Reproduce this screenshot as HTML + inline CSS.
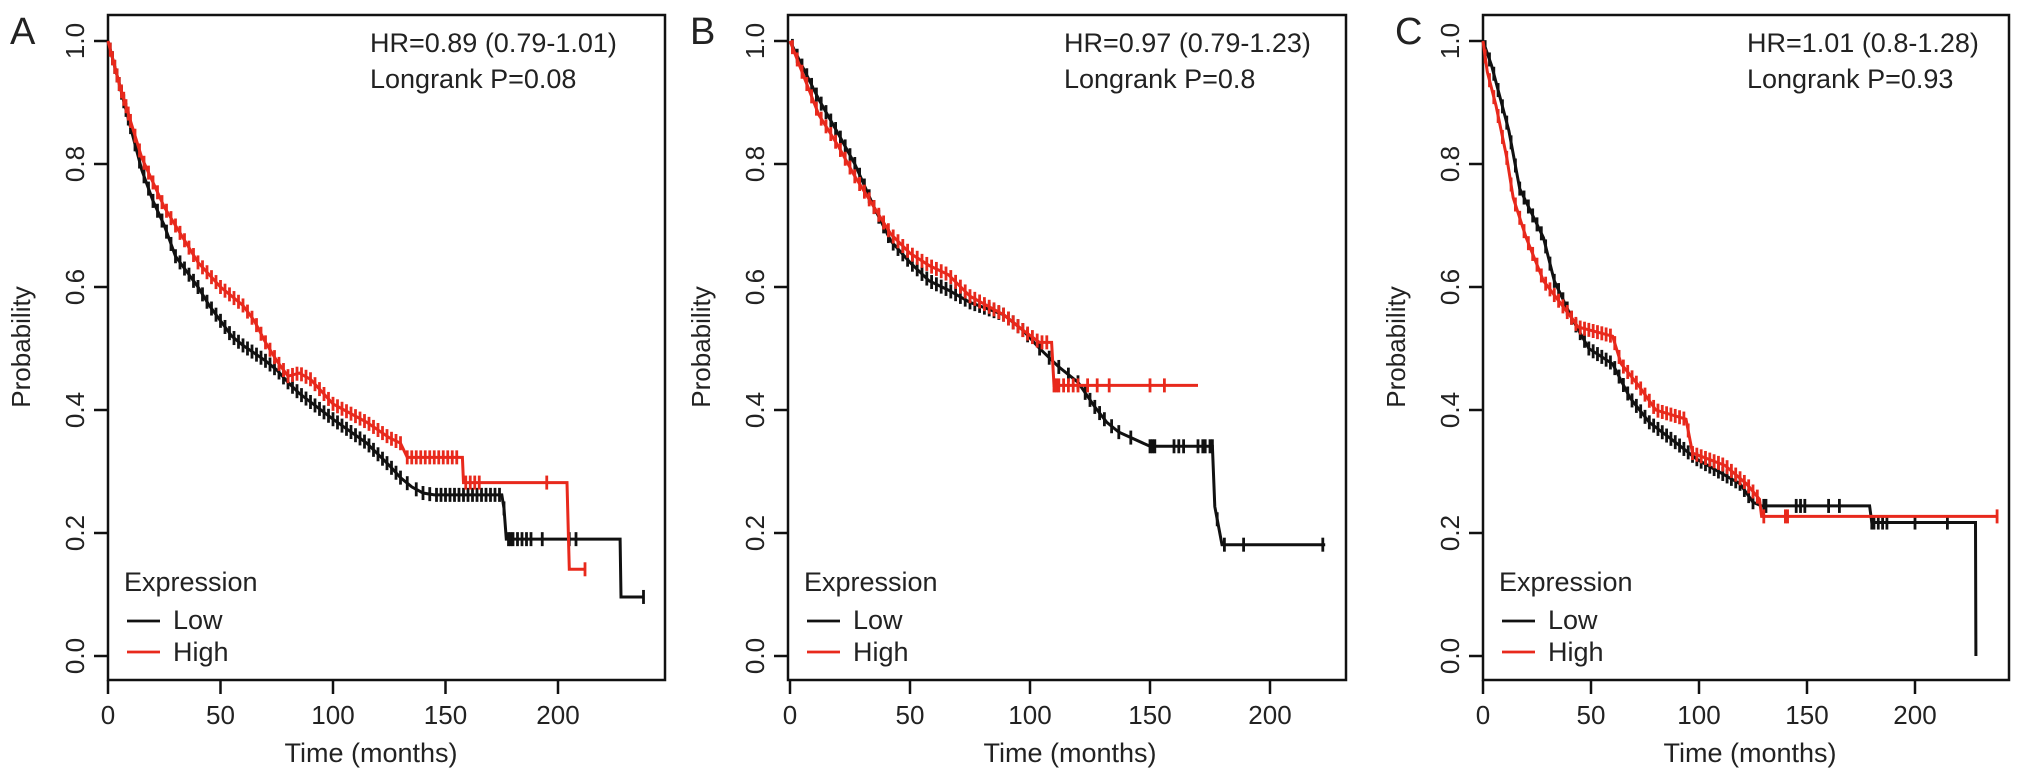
<!DOCTYPE html>
<html><head><meta charset="utf-8"><style>
html,body{margin:0;padding:0;background:#fff;}
svg{display:block;font-family:"Liberation Sans",Arial,sans-serif;}
</style></head><body>
<svg id="fig" width="2031" height="783" viewBox="0 0 2031 783"></svg>
<script>
// ---------- Data (months, survival probability) ----------
const panelLetters = ["A","B","C"];
const hrTexts = ["HR=0.89 (0.79-1.01)","HR=0.97 (0.79-1.23)","HR=1.01 (0.8-1.28)"];
const pTexts = ["Longrank P=0.08","Longrank P=0.8","Longrank P=0.93"];
const xTicks = [0,50,100,150,200];
const yTicks = [0,0.2,0.4,0.6,0.8,1.0];
const yTickLabels = ["0.0","0.2","0.4","0.6","0.8","1.0"];

const aLowT = [0,5,10,15,20,25,30,35,40,45,50,55,60,70,75,80,85,100,115,125,130,135,140,145,175,176,177,227.6,228,238];
const aLowS = [1,0.93,0.86,0.79,0.74,0.70,0.65,0.625,0.6,0.57,0.545,0.52,0.505,0.48,0.465,0.445,0.427,0.385,0.346,0.31,0.29,0.275,0.265,0.262,0.262,0.24,0.19,0.19,0.096,0.096];
const aHighT = [0,5,10,15,20,25,30,40,50,55,60,65,70,75,80,85,90,95,100,115,125,130,133,157.5,158,204,205,212];
const aHighS = [1,0.93,0.87,0.81,0.77,0.73,0.70,0.64,0.60,0.585,0.57,0.545,0.51,0.48,0.455,0.46,0.45,0.43,0.41,0.38,0.355,0.346,0.323,0.323,0.282,0.282,0.141,0.141];
const aLowC = [1,2,3,4,5,6,7,8,9,10,12,14,16,18,20,22,24,26,28,30,32,34,36,38,40,42,44,46,48,50,52,54,56,58,60,62,64,66,68,70,72,74,76,78,80,82,84,86,88,90,92,94,96,98,100,102,104,106,108,110,112,114,116,118,120,122,124,126,128,130,133,137,140,143,146,148,150,152,154,156,158,160,162,164,166,168,170,172,174,176,178,179,180,182,184,186,188,193,205,208,238];
const aHighC = [1,2,3,4,5,6,7,8,9,10,12,14,16,18,20,22,24,26,28,30,32,34,36,38,40,42,44,46,48,50,52,54,56,58,60,62,64,66,68,70,72,74,76,78,80,82,84,86,88,90,92,94,96,98,100,102,104,106,108,110,112,114,116,118,120,122,124,126,128,130,133,135,137,139,141,143,145,147,149,151,153,155,159,161,163,165,195,212];

const bLowT = [0,5,12,20,27,35,42,50,58,66,75,89,97,104,112,120,127,132,137,150,176,177,180,223];
const bLowS = [1,0.96,0.905,0.85,0.80,0.73,0.675,0.64,0.61,0.595,0.575,0.555,0.53,0.50,0.47,0.445,0.405,0.38,0.364,0.341,0.341,0.243,0.181,0.181];
const bHighT = [0,5,12,20,27,35,42,50,58,66,75,89,97,104,109,110,170];
const bHighS = [1,0.95,0.88,0.83,0.78,0.73,0.686,0.655,0.635,0.62,0.585,0.555,0.53,0.51,0.51,0.44,0.44];
const bLowC = [1,3,5,7,9,11,13,15,17,19,21,23,25,27,29,31,33,35,37,39,41,43,45,47,49,51,53,55,57,59,61,63,65,67,69,71,73,75,77,79,81,83,85,87,89,91,93,95,97,99,104,108,112,116,120,123,125,127,129,131,134,137,142,150,151,152,160,162,164,170,172,173,175,176,178,181,189,222];
const bHighC = [1,3,5,7,9,11,13,15,17,19,21,23,25,27,29,31,33,35,37,39,41,43,45,47,49,51,53,55,57,59,61,63,65,67,69,71,73,75,77,79,81,83,85,87,89,91,93,95,97,99,101,103,105,107,110,111,112,114,116,118,120,124,128,133,150,156];

const cLowT = [0,4,12,17,28,33,41,49,60,68,77,90,99,109,119,125,129,179,180,228,228.2];
const cLowS = [1,0.96,0.854,0.76,0.68,0.61,0.55,0.50,0.475,0.42,0.38,0.345,0.32,0.30,0.28,0.25,0.244,0.244,0.217,0.217,0];
const cHighT = [0,2,6,11,14,20,28,41,44,60,64,72,80,94,97,112,122,128,129,238];
const cHighS = [1,0.95,0.895,0.81,0.745,0.68,0.61,0.55,0.535,0.52,0.475,0.44,0.40,0.385,0.33,0.31,0.28,0.255,0.227,0.227];
const cLowC = [1,3,5,7,9,11,13,15,17,19,21,23,25,27,29,31,33,35,37,39,41,43,45,47,49,51,53,55,57,59,61,63,65,67,69,71,73,75,77,79,81,83,85,87,89,91,93,95,97,99,101,103,105,107,109,111,113,115,117,119,121,123,125,130,131,145,147,149,160,165,180,181,183,185,187,200,215];
const cHighC = [1,3,5,7,9,11,13,15,17,19,21,23,25,27,29,31,33,35,37,39,41,43,45,47,49,51,53,55,57,59,61,63,65,67,69,71,73,75,77,79,81,83,85,87,89,91,93,95,97,99,101,103,105,107,109,111,113,115,117,119,121,123,125,127,130,140,141,238];

// ---------- Layout ----------
const panels = [
  {left:108,right:665,x0:108,pxm:2.25,low:[aLowT,aLowS,aLowC],high:[aHighT,aHighS,aHighC],hrX:370,letterX:10,titleX:371},
  {left:788,right:1346,x0:790,pxm:2.4,low:[bLowT,bLowS,bLowC],high:[bHighT,bHighS,bHighC],hrX:1064,letterX:690,titleX:1070},
  {left:1483,right:2009,x0:1483,pxm:2.16,low:[cLowT,cLowS,cLowC],high:[cHighT,cHighS,cHighC],hrX:1747,letterX:1395,titleX:1750}
];
const TOP=15, BOT=680, Y0=656, Y1=41;
const NS="http://www.w3.org/2000/svg";
const svg=document.getElementById('fig');
function mk(tag,attrs,parent){const e=document.createElementNS(NS,tag);for(const k in attrs)e.setAttribute(k,attrs[k]);(parent||svg).appendChild(e);return e;}
function yS(p){return Y0-(Y0-Y1)*p;}
function survAt(T,S,t){let v=S[0];for(let i=0;i<T.length;i++){if(T[i]<=t)v=S[i];else{const f=(t-T[i-1])/(T[i]-T[i-1]);if(S[i]<S[i-1]&&T[i]-T[i-1]<=1.5)return v;return S[i-1]+(S[i]-S[i-1])*f;}}return v;}

panels.forEach((P,pi)=>{
  const xS=t=>P.x0+P.pxm*t;
  const g=mk('g',{});
  
  
  const frame=mk('rect',{x:P.left,y:TOP,width:P.right-P.left,height:BOT-TOP,fill:'none',stroke:'#111','stroke-width':2.5},g);
  
  
  xTicks.forEach(v=>{
    const x=xS(v);
    const tk=mk('line',{x1:x,x2:x,y1:BOT,y2:BOT+14,stroke:'#111','stroke-width':2.5},g);
    
    
    const tl=mk('text',{x:x,y:724,'text-anchor':'middle','font-size':26,fill:'#222'},g);
    tl.textContent=v;
    
    
  });
  yTicks.forEach((v,i)=>{
    const y=yS(v);
    const tk=mk('line',{x1:P.left-14,x2:P.left,y1:y,y2:y,stroke:'#111','stroke-width':2.5},g);
    
    
    const tx=P.left-24;
    const tl=mk('text',{x:tx,y:y,'text-anchor':'middle','font-size':26,fill:'#222',transform:`rotate(-90 ${tx} ${y})`},g);
    tl.textContent=yTickLabels[i];
    
    
  });
  const xt=mk('text',{x:P.titleX,y:762,'text-anchor':'middle','font-size':27,fill:'#222'},g);
  xt.textContent='Time (months)';
  
  
  const ytx=P.left-78, yty=347;
  const yt=mk('text',{x:ytx,y:yty,'text-anchor':'middle','font-size':26,fill:'#222',transform:`rotate(-90 ${ytx} ${yty})`},g);
  yt.textContent='Probability';
  
  
  const pl=mk('text',{x:P.letterX,y:44,'font-size':38,fill:'#222'},g);
  pl.textContent=panelLetters[pi];
  
  
  const hr=mk('text',{x:P.hrX,y:52,'font-size':27,fill:'#222'},g);
  hr.textContent=hrTexts[pi];
  
  
  const pv=mk('text',{x:P.hrX,y:88,'font-size':27,fill:'#222'},g);
  pv.textContent=pTexts[pi];
  
  
  [[P.low,'#111','low'],[P.high,'#e8291c','high']].forEach(([d,col,nm])=>{
    const [T,S,C]=d;
    const pts=T.map((t,i)=>xS(t).toFixed(1)+','+yS(S[i]).toFixed(1)).join(' ');
    const line=mk('polyline',{points:pts,fill:'none',stroke:col,'stroke-width':3,'stroke-linejoin':'miter'},g);
    
    
    C.forEach(t=>{
      const x=xS(t), y=yS(survAt(T,S,t));
      const m=mk('line',{x1:x,x2:x,y1:y-7,y2:y+7,stroke:col,'stroke-width':2.8},g);
      
      
    });
  });
  const lx=P.left+16;
  const lt=mk('text',{x:lx,y:591,'font-size':27,fill:'#222'},g);
  lt.textContent='Expression';
  
  
  [['Low','#111',621,628],['High','#e8291c',652,660]].forEach(([lab,col,ly,ty])=>{
    const ln=mk('line',{x1:lx+3,x2:lx+36,y1:ly,y2:ly,stroke:col,'stroke-width':2.8},g);
    
    
    const tx=mk('text',{x:lx+49,y:ty+1,'font-size':27,fill:'#222'},g);
    tx.textContent=lab;
    
    
  });
});
</script>
</body></html>
